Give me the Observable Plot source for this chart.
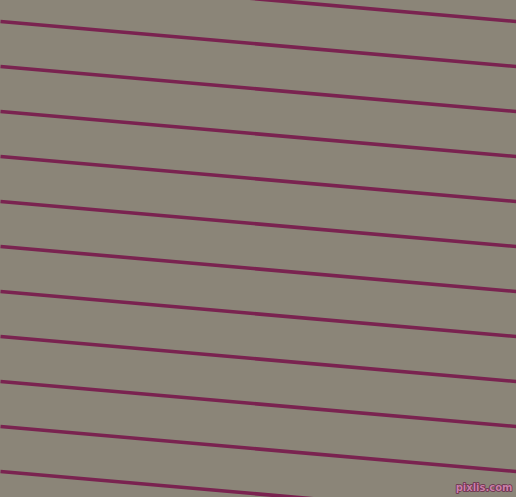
<!DOCTYPE html>
<html>
<head>
<meta charset="utf-8">
<script src="https://cdn.jsdelivr.net/npm/d3@7"></script>
<script src="https://cdn.jsdelivr.net/npm/@observablehq/plot@0.6"></script>
<style>
  html, body { margin: 0; padding: 0; background: #8b8578; overflow: hidden; }
  svg { display: block; }
</style>
</head>
<body>
<div id="chart"></div>
<script>
// Stripe lines: y position at left edge (x=0) and right edge (x=516)
const leftX = 0;
const rightX = 516;
const leftY  = [-24, 21, 66, 111, 156, 201, 246, 291, 336, 381, 426, 471];
const rightY = [21, 66, 111, 156, 201, 246, 291, 336, 381, 426, 471, 516];
const watermark = ["pixlis.com"];

const lines = leftY.map((y, i) => ({x1: leftX, y1: y, x2: rightX, y2: rightY[i]}));

const chart = Plot.plot({
  width: 516,
  height: 497,
  margin: 0,
  x: {domain: [0, 516], axis: null},
  y: {domain: [497, 0], axis: null},
  style: {background: "#8b8578", overflow: "hidden"},
  marks: [
    Plot.link(lines, {x1: "x1", y1: "y1", x2: "x2", y2: "y2", stroke: "#7a2350", strokeWidth: 3.6, strokeOpacity: 1}),
    Plot.text(watermark, {
      x: 512, y: 487, text: d => d, textAnchor: "end",
      fontSize: 10, fontWeight: "bold", fontFamily: "DejaVu Sans",
      fill: "#c880a8", stroke: "#6a2a4a", strokeWidth: 1.5, paintOrder: "stroke"
    })
  ]
});
document.getElementById("chart").appendChild(chart);
</script>
</body>
</html>
